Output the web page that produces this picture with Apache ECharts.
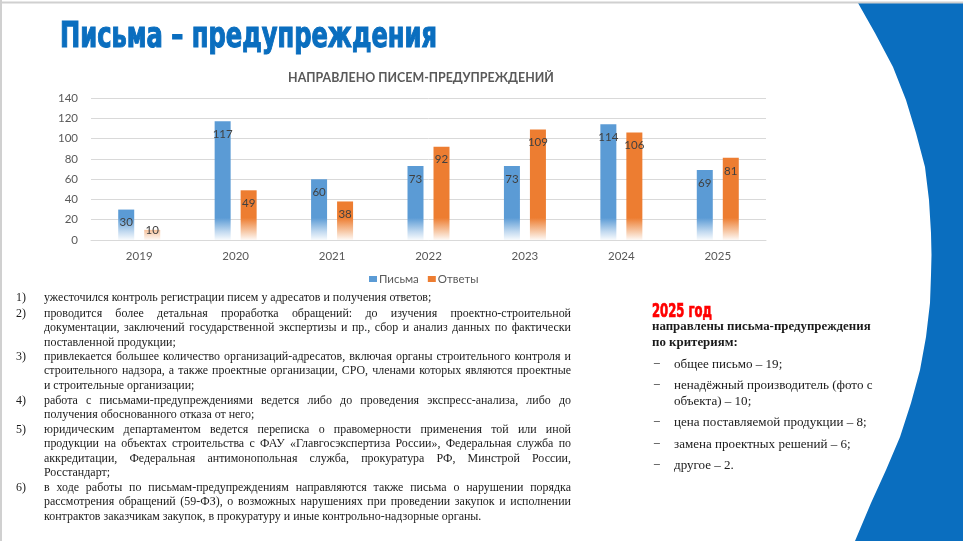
<!DOCTYPE html>
<html>
<head>
<meta charset="utf-8">
<script src="https://cdn.jsdelivr.net/npm/echarts@6/dist/echarts.min.js"></script>
<style>
  html, body { margin: 0; padding: 0; background: #fff; }
  #slide { position: relative; width: 963px; height: 541px; overflow: hidden; background: #fff; }
  #chart { position: absolute; left: 0; top: 0; width: 963px; height: 541px; }
  .abs { position: absolute; white-space: nowrap; }
  #title { left: 60px; top: 18px; font-family: 'Liberation Sans Narrow', 'DejaVu Sans Condensed', 'Roboto Condensed', sans-serif;
           font-weight: bold; font-size: 35px; line-height: 34px; color: #0A6EBF; transform-origin: 0 0;
           -webkit-text-stroke: 1.1px #0A6EBF; }
  #year { left: 652px; top: 301px; font-family: 'Liberation Sans Narrow', 'DejaVu Sans Condensed', sans-serif;
          font-weight: bold; font-size: 19px; line-height: 19px; color: #FF0000; transform-origin: 0 0;
          -webkit-text-stroke: 0.7px #FF0000; }
  .serif { font-family: 'Liberation Serif', 'Times New Roman', serif; color: #1a1a1a; }
  .item { position: absolute; left: 0; }
  .num { position: absolute; left: 16px; top: 0; }
  .lines { position: absolute; left: 44px; top: 0; width: 527px; }
  .ln { display: block; white-space: nowrap; }
  .ln span { display: inline-block; white-space: nowrap; }
  .rp { position: absolute; left: 652px; }
  .dash { position: absolute; left: 1px; top: 0; }
  .btxt { position: absolute; left: 22px; top: 0; white-space: nowrap; }
</style>
</head>
<body>
<div id="slide">
  <div id="chart"></div>
  <div id="title" class="abs">Письма – предупреждения</div>
  <div id="notes"></div>
  <div id="year" class="abs">2025 год</div>
  <div id="panel"></div>
</div>
<script>
// ---------- data ----------
var years = ['2019', '2020', '2021', '2022', '2023', '2024', '2025'];
var letters = [30, 117, 60, 73, 73, 114, 69];
var answers = [10, 49, 38, 92, 109, 106, 81];
var seriesNames = ['Письма', 'Ответы'];
var chartTitle = 'НАПРАВЛЕНО ПИСЕМ-ПРЕДУПРЕЖДЕНИЙ';
var yMin = 0, yMax = 140, yStep = 20;

var notes = [
  ['ужесточился контроль регистрации писем у адресатов и получения ответов;'],
  ['проводится более детальная проработка обращений: до изучения проектно-строительной',
   'документации, заключений государственной экспертизы и пр., сбор и анализ данных по фактически',
   'поставленной продукции;'],
  ['привлекается большее количество организаций-адресатов, включая органы строительного контроля и',
   'строительного надзора, а также проектные организации, СРО, членами которых являются проектные',
   'и строительные организации;'],
  ['работа с письмами-предупреждениями ведется либо до проведения экспресс-анализа, либо до',
   'получения обоснованного отказа от него;'],
  ['юридическим департаментом ведется переписка о правомерности применения той или иной',
   'продукции на объектах строительства с ФАУ «Главгосэкспертиза России», Федеральная служба по',
   'аккредитации, Федеральная антимонопольная служба, прокуратура РФ, Минстрой России,',
   'Росстандарт;'],
  ['в ходе работы по письмам-предупреждениям направляются также письма о нарушении порядка',
   'рассмотрения обращений (59-ФЗ), о возможных нарушениях при проведении закупок и исполнении',
   'контрактов заказчикам закупок, в прокуратуру и иные контрольно-надзорные органы.']
];
var panelHead = ['направлены письма-предупреждения', 'по критериям:'];
var criteria = [
  ['общее письмо – 19;'],
  ['ненадёжный производитель (фото с', 'объекта) – 10;'],
  ['цена поставляемой продукции – 8;'],
  ['замена проектных решений – 6;'],
  ['другое – 2.']
];

// ---------- helpers ----------
var mctx = document.createElement('canvas').getContext('2d');
function fit(text, weight, family, target) {
  mctx.font = weight + ' 100px ' + family;
  return 100 * target / mctx.measureText(text).width;
}
var SERIF = "'Liberation Serif', 'Times New Roman', serif";
var bodySize = fit(notes[0][0], 'normal', SERIF, 388);
var boldSize = fit(panelHead[0], 'bold', SERIF, 219);
var regSize = fit(criteria[2][0], 'normal', SERIF, 193);

function scaleTo(el, target) {
  var w = el.getBoundingClientRect().width;
  el.style.transform = 'scaleX(' + (target / w) + ')';
}
scaleTo(document.getElementById('title'), 377);
scaleTo(document.getElementById('year'), 60);

// notes
var noteTops = [290, 306, 349, 393, 422, 480];
var LH = 14.3;
var notesEl = document.getElementById('notes');
notes.forEach(function (lines, i) {
  var it = document.createElement('div');
  it.className = 'item serif';
  it.style.top = noteTops[i] + 'px';
  it.style.fontSize = bodySize + 'px';
  it.style.lineHeight = LH + 'px';
  var n = document.createElement('div');
  n.className = 'num';
  n.textContent = (i + 1) + ')';
  it.appendChild(n);
  var box = document.createElement('div');
  box.className = 'lines';
  lines.forEach(function (t, j) {
    var d = document.createElement('div');
    d.className = 'ln';
    var s = document.createElement('span');
    s.textContent = t;
    d.appendChild(s);
    d.dataset.just = (j < lines.length - 1) ? '1' : '0';
    box.appendChild(d);
  });
  it.appendChild(box);
  notesEl.appendChild(it);
});
Array.prototype.forEach.call(document.querySelectorAll('.ln'), function (d) {
  if (d.dataset.just !== '1') return;
  var s = d.firstChild;
  var w = s.getBoundingClientRect().width;
  var spaces = (s.textContent.match(/ /g) || []).length;
  if (spaces > 0) s.style.wordSpacing = ((527 - w) / spaces) + 'px';
});

// right panel
var panel = document.getElementById('panel');
var head = document.createElement('div');
head.className = 'rp serif';
head.style.top = '317.5px';
head.style.fontSize = boldSize + 'px';
head.style.fontWeight = 'bold';
head.style.lineHeight = '16px';
head.style.whiteSpace = 'nowrap';
head.innerHTML = panelHead.join('<br>');
panel.appendChild(head);
var critTops = [355.6, 377.1, 414.1, 435.6, 456.6];
criteria.forEach(function (lines, i) {
  var it = document.createElement('div');
  it.className = 'rp serif';
  it.style.top = critTops[i] + 'px';
  it.style.fontSize = regSize + 'px';
  it.style.lineHeight = '15.5px';
  var dsh = document.createElement('div');
  dsh.className = 'dash';
  dsh.textContent = '−';
  it.appendChild(dsh);
  var t = document.createElement('div');
  t.className = 'btxt';
  t.innerHTML = lines.join('<br>');
  it.appendChild(t);
  panel.appendChild(it);
});

// ---------- chart ----------
var BLUE = '#5B9BD5', ORANGE = '#ED7D31';
function fade(c) {
  return {
    type: 'linear', x: 0, y: 208, x2: 0, y2: 241, global: true,
    colorStops: [
      { offset: 0, color: c },
      { offset: 0.3, color: c },
      { offset: 0.72, color: c === BLUE ? '#c3daf0' : '#f7cbab' },
      { offset: 1, color: '#ffffff' }
    ]
  };
}
var answerData = answers.map(function (v) {
  return v < 20 ? { value: v, label: { position: 'inside', offset: [0, -5] } } : v;
});
var sansFamily = "Lato, 'Noto Sans', sans-serif";
var chartTitleSize = fit(chartTitle, 'bold', sansFamily, 266);

var chart = echarts.init(document.getElementById('chart'), null, { renderer: 'canvas' });
chart.setOption({
  backgroundColor: 'transparent',
  animation: false,
  textStyle: { fontFamily: sansFamily },
  title: {
    text: chartTitle, left: 416, top: 67, textAlign: 'center',
    textStyle: { fontSize: chartTitleSize, fontWeight: 'bold', color: '#595959', fontFamily: sansFamily }
  },
  graphic: [
    { type: 'polygon', silent: true, z: -10,
      shape: { points: [[858, 3], [875, 33], [893, 67], [906, 100], [916, 133], [925, 167], [929, 200], [931, 233],
                        [931.5, 255], [931, 275], [930, 303], [926, 337], [920, 370], [911, 403], [900, 437],
                        [886, 470], [871, 503], [855, 541], [963, 541], [963, 3]] },
      style: { fill: '#0A6EBF' } },
    { type: 'line', silent: true, shape: { x1: 0, y1: 2.5, x2: 963, y2: 2.5 }, style: { stroke: '#d0d0d0', lineWidth: 2 } },
    { type: 'line', silent: true, shape: { x1: 1, y1: 0, x2: 1, y2: 541 }, style: { stroke: '#d0d0d0', lineWidth: 2 } }
  ],
  legend: {
    left: 364, top: 268,
    icon: 'rect', itemWidth: 8, itemHeight: 6, itemGap: 9,
    textStyle: { fontSize: 11.5, color: '#595959', fontFamily: sansFamily, padding: [0, 0, 0, -3] },
    data: [
      { name: seriesNames[0], itemStyle: { color: BLUE } },
      { name: seriesNames[1], itemStyle: { color: ORANGE } }
    ]
  },
  grid: { left: 91, right: 197, top: 98, bottom: 301, containLabel: false },
  xAxis: {
    type: 'category', data: years,
    axisTick: { show: false },
    axisLine: { lineStyle: { color: '#d9d9d9', width: 1 } },
    axisLabel: { color: '#595959', fontSize: 11.5, margin: 10 }
  },
  yAxis: {
    type: 'value', min: yMin, max: yMax, interval: yStep,
    axisLine: { show: false }, axisTick: { show: false },
    splitLine: { lineStyle: { color: '#d9d9d9', width: 1 } },
    axisLabel: { color: '#595959', fontSize: 11.5, margin: 13 }
  },
  series: [
    { name: seriesNames[0], type: 'bar', data: letters, barWidth: 16, barGap: '62.5%',
      itemStyle: { color: fade(BLUE) },
      label: { show: true, position: 'insideTop', distance: 7, color: '#404040', fontSize: 11.5 } },
    { name: seriesNames[1], type: 'bar', data: answerData, barWidth: 16,
      itemStyle: { color: fade(ORANGE) },
      label: { show: true, position: 'insideTop', distance: 7, color: '#404040', fontSize: 11.5 } }
  ]
});
</script>
</body>
</html>
